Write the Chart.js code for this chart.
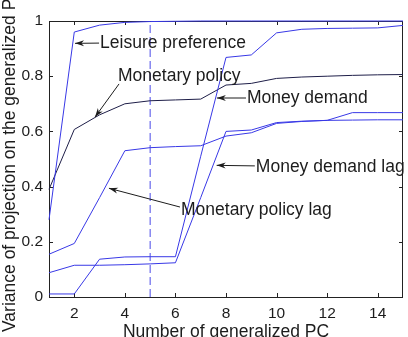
<!DOCTYPE html>
<html><head><meta charset="utf-8">
<script src="https://cdn.jsdelivr.net/npm/chart.js@4/dist/chart.umd.min.js"></script>
<style>html,body{margin:0;padding:0;background:#fff}#wrap{width:408px;height:337px}</style>
</head><body><div id="wrap"><canvas id="c"></canvas></div>
<script>
const pcs = [1,2,3,4,5,6,7,8,9,10,11,12,13,14,15];
const leisurePreference = [0.28,0.96,0.985,0.995,0.998,0.999,1,1,1,1,1,1,1,1,1];
const monetaryPolicy = [0.39,0.607,0.66,0.70,0.711,0.714,0.717,0.768,0.774,0.792,0.797,0.80,0.803,0.805,0.806];
const moneyDemand = [0.011,0.011,0.137,0.145,0.146,0.146,0.51,0.868,0.877,0.957,0.97,0.973,0.974,0.975,0.984];
const moneyDemandLag = [0.088,0.115,0.115,0.117,0.12,0.124,0.36,0.60,0.605,0.632,0.637,0.64,0.668,0.668,0.668];
const monetaryPolicyLag = [0.155,0.194,0.36,0.53,0.541,0.545,0.548,0.583,0.595,0.629,0.636,0.64,0.641,0.642,0.642];
const cutoffX = [5,5];
const cutoffY = [0,1];
const xTicks = [2,4,6,8,10,12,14];
const yTicks = [0,0.2,0.4,0.6,0.8,1];
const xTitle = 'Number of generalized PC';
const yTitle = 'Variance of projection on the generalized PC';
// annotations: label, text anchor (x,y), arrow start (x,y), arrow tip (x,y) in data units
const annLabels = ['Leisure preference','Monetary policy','Money demand','Money demand lag','Monetary policy lag'];
const annText = [[3.02,0.918],[3.73,0.80],[8.83,0.719],[9.18,0.469],[6.22,0.315]];
const annFrom = [[2.98,0.92],[3.77,0.772],[8.79,0.721],[9.14,0.475],[6.18,0.326]];
const annTip = [[2.03,0.919],[2.82,0.652],[7.64,0.721],[7.63,0.477],[3.37,0.394]];

const BLUE = '#3838e6';
const FONT = 'Liberation Sans, Arial, Helvetica, sans-serif';
const toXY = a => pcs.map((x,i)=>({x:x,y:a[i]}));
function ds(data,color){return {data:toXY(data),borderColor:color,borderWidth:1,pointRadius:0,fill:false,tension:0,clip:2};}

const decor = {
  id:'decor',
  beforeDatasetsDraw(chart){
    const {ctx, chartArea:a, scales:{x,y}} = chart;
    ctx.save();
    ctx.strokeStyle='#222'; ctx.lineWidth=1;
    ctx.strokeRect(Math.round(a.left)+0.5, Math.round(a.top)+0.5, Math.round(a.right-a.left)-1, Math.round(a.bottom-a.top));
    ctx.beginPath();
    xTicks.forEach(v=>{const px=Math.round(x.getPixelForValue(v))+0.5;
      ctx.moveTo(px,a.bottom); ctx.lineTo(px,a.bottom-4);
      ctx.moveTo(px,a.top); ctx.lineTo(px,a.top+4);});
    yTicks.forEach(v=>{const py=Math.round(y.getPixelForValue(v))+0.5;
      ctx.moveTo(a.left,py); ctx.lineTo(a.left+4,py);
      ctx.moveTo(a.right,py); ctx.lineTo(a.right-4,py);});
    ctx.stroke();
    ctx.restore();
  },
  afterDatasetsDraw(chart){
    const {ctx, chartArea:a, scales:{x,y}} = chart;
    ctx.save();
    ctx.fillStyle='#1c1c1c'; ctx.strokeStyle='#1c1c1c'; ctx.lineWidth=1;
    ctx.font='17.5px '+FONT; ctx.textBaseline='middle'; ctx.textAlign='left';
    annLabels.forEach((t,i)=>{
      ctx.fillText(t, x.getPixelForValue(annText[i][0]), y.getPixelForValue(annText[i][1]));
      const x0=x.getPixelForValue(annFrom[i][0]), y0=y.getPixelForValue(annFrom[i][1]);
      const x1=x.getPixelForValue(annTip[i][0]), y1=y.getPixelForValue(annTip[i][1]);
      const ang=Math.atan2(y1-y0,x1-x0);
      ctx.beginPath(); ctx.moveTo(x0,y0); ctx.lineTo(x1,y1); ctx.stroke();
      const L=9, W=3;
      ctx.beginPath();
      ctx.moveTo(x1,y1);
      ctx.lineTo(x1-L*Math.cos(ang)+W*Math.sin(ang), y1-L*Math.sin(ang)-W*Math.cos(ang));
      ctx.lineTo(x1-L*0.7*Math.cos(ang), y1-L*0.7*Math.sin(ang));
      ctx.lineTo(x1-L*Math.cos(ang)-W*Math.sin(ang), y1-L*Math.sin(ang)+W*Math.cos(ang));
      ctx.closePath(); ctx.fill();
    });
    ctx.font='17.5px '+FONT; ctx.textAlign='center'; ctx.textBaseline='middle';
    ctx.translate(10.5,(a.top+a.bottom)/2); ctx.rotate(-Math.PI/2);
    ctx.fillText(yTitle,0,0);
    ctx.restore();
  }
};

new Chart(document.getElementById('c'),{
  type:'line',
  data:{datasets:[
    ds(leisurePreference,BLUE),
    ds(moneyDemand,BLUE),
    ds(moneyDemandLag,BLUE),
    ds(monetaryPolicyLag,BLUE),
    ds(monetaryPolicy,'#1e1e48'),
    {data:cutoffX.map((v,i)=>({x:v,y:cutoffY[i]})),borderColor:'#4a4ae8',borderWidth:1,borderDash:[8,4],pointRadius:0,fill:false}
  ]},
  options:{
    responsive:true, maintainAspectRatio:false, animation:false,
    layout:{padding:{top:21,right:5,left:0,bottom:0}},
    plugins:{legend:{display:false},tooltip:{enabled:false}},
    scales:{
      x:{type:'linear',min:1,max:15,
        afterBuildTicks:s=>{s.ticks=xTicks.map(v=>({value:v}));},
        afterFit:s=>{s.height=40;},
        grid:{display:false,drawTicks:false},border:{display:false},
        ticks:{padding:7,color:'#1c1c1c',font:{family:FONT,size:15.5},maxRotation:0,autoSkip:false,callback:v=>String(v)},
        title:{display:true,text:xTitle,color:'#1c1c1c',font:{family:FONT,size:17.5,lineHeight:0.5},padding:0}},
      y:{type:'linear',min:0,max:1,
        afterBuildTicks:s=>{s.ticks=yTicks.map(v=>({value:v}));},
        afterFit:s=>{s.width=49;},
        grid:{display:false,drawTicks:false},border:{display:false},
        ticks:{padding:6,color:'#1c1c1c',font:{family:FONT,size:15.5},autoSkip:false,callback:v=>String(v)}}
    }
  },
  plugins:[decor]
});
</script></body></html>
